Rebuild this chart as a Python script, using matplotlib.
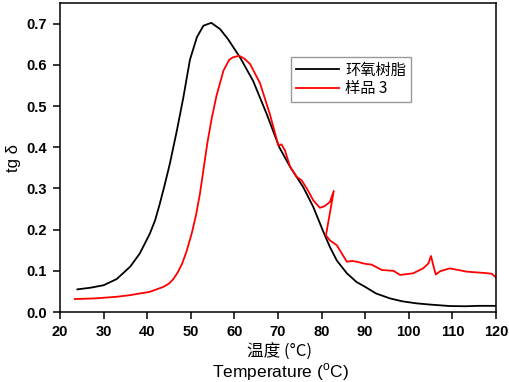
import matplotlib
matplotlib.use("Agg")
import matplotlib.pyplot as plt
from matplotlib.font_manager import FontProperties

plt.rcParams['font.family'] = ['Liberation Sans', 'Noto Sans CJK SC', 'DejaVu Sans']
plt.rcParams['mathtext.fontset'] = 'custom'
plt.rcParams['mathtext.rm'] = 'Liberation Sans'

# epoxy resin
black_t = [24, 27, 30, 33, 36.1, 38.3, 40.6, 41.8, 42.9, 44.0, 45.2, 46.8, 48.3, 49.8,
           51.4, 52.9, 54.7, 56.7, 58.5, 61.3, 64.3, 67.4, 70.3, 72.8, 75.8, 78.1,
           80.4, 81.9, 83.5, 85.8, 88, 90, 92.5, 95.7, 98.5, 101.8, 105, 109.4, 113,
           116, 120]
black_v = [0.055, 0.059, 0.065, 0.080, 0.110, 0.142, 0.19, 0.222, 0.263, 0.308, 0.36,
           0.44, 0.521, 0.612, 0.667, 0.695, 0.702, 0.687, 0.663, 0.618, 0.561, 0.481,
           0.40, 0.352, 0.303, 0.255, 0.195, 0.158, 0.125, 0.094, 0.073, 0.061, 0.045,
           0.033, 0.026, 0.021, 0.018, 0.0145, 0.014, 0.015, 0.015]

# sample 3
red_t = [23.4, 28, 33, 36.1, 40.6, 43.7, 45, 46, 47, 48, 49, 50.2, 51.2, 52.1, 53.0,
         53.8, 54.8, 55.9, 57.5, 58.8, 59.6, 61.1, 62.3, 63.6, 65.9, 68.2, 70.1, 70.8,
         71.6, 72.8, 74.3, 75.4, 76.6, 78.1, 79.6, 80.7, 81.9, 82.8, 81.0, 81.9, 83.5,
         85.8, 87, 88.1, 90, 91.5, 93.8, 96.5, 98, 101, 103.3, 104.5, 105.1, 105.7,
         106.2, 107.2, 109.4, 113.3, 117.1, 119, 120]
red_v = [0.0315, 0.033, 0.037, 0.041, 0.049, 0.061, 0.069, 0.080, 0.096, 0.117, 0.146,
         0.19, 0.235, 0.287, 0.352, 0.41, 0.47, 0.525, 0.586, 0.612, 0.618, 0.622,
         0.615, 0.602, 0.555, 0.478, 0.404, 0.407, 0.392, 0.352, 0.328, 0.32, 0.30,
         0.271, 0.253, 0.257, 0.267, 0.294, 0.186, 0.174, 0.162, 0.122, 0.124, 0.122,
         0.117, 0.115, 0.102, 0.1, 0.09, 0.094, 0.106, 0.118, 0.136, 0.11, 0.091,
         0.099, 0.106, 0.098, 0.095, 0.093, 0.084]

fig = plt.figure(figsize=(5.1, 3.82), dpi=100)
ax = fig.add_axes([0.1176, 0.1832, 0.8549, 0.8088])

ax.plot(black_t, black_v, color='black', lw=1.3, label='环氧树脂')
ax.plot(red_t, red_v, color='red', lw=1.3, label='样品 3')

ax.set_xlim(20, 120)
ax.set_ylim(0, 0.75)
xt = list(range(20, 121, 10))
yt = [0.0, 0.1, 0.2, 0.3, 0.4, 0.5, 0.6, 0.7]
tick_font = FontProperties(family='Liberation Sans', weight='bold', size=10.5)
ax.set_xticks(xt)
ax.set_xticklabels([str(v) for v in xt], fontproperties=tick_font)
ax.set_yticks(yt)
ax.set_yticklabels(['%.1f' % v for v in yt], fontproperties=tick_font)
ax.tick_params(direction='out', length=5, width=1.1, pad=4.5)
for s in ax.spines.values():
    s.set_linewidth(1.1)

ax.set_ylabel('tg δ', fontsize=12, labelpad=4)
fig.text(0.549, 0.079, '温度 (°C)', ha='center', va='center', fontsize=12,
         family=['Noto Sans CJK SC', 'Liberation Sans'])
fig.text(0.549, 0.026, 'Temperature ($^{\\rm o}$C)', ha='center', va='center', fontsize=12.5)

leg = ax.legend(loc='upper left', bbox_to_anchor=(0.531, 0.825), borderaxespad=0,
                fancybox=False, handlelength=2.8,
                prop={'family': ['Noto Sans CJK SC', 'Liberation Sans'], 'size': 11},
                labelspacing=0.1, borderpad=0.3, handletextpad=0.4)
leg.get_frame().set_edgecolor('gray')
leg.get_frame().set_linewidth(1.0)

fig.savefig('out.png', dpi=100)
